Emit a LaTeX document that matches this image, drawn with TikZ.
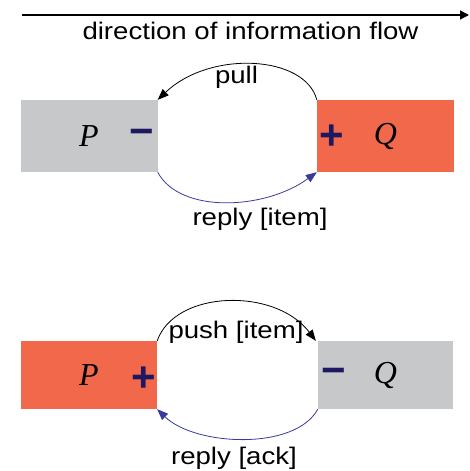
\documentclass[tikz,border=0pt]{standalone}
\usepackage{fontspec}
\setmainfont[FakeStretch=1.15]{Liberation Sans}
\newfontfamily\varfont{Liberation Serif}
\newfontfamily\signfont{Liberation Sans}
\usetikzlibrary{arrows.meta}
\definecolor{cgrey}{HTML}{C7C8CA}
\definecolor{corange}{HTML}{F2684A}
\definecolor{cnavy}{HTML}{1D1860}
\definecolor{cblue}{HTML}{3A3A9E}
\tikzset{
  every picture/.style={x=1pt, y=1pt},
  port/.style={fill=#1, inner sep=0pt, minimum width=137pt, minimum height=71pt,
    font=\varfont\itshape\fontsize{32}{32}\selectfont},
  sign/.style={text=cnavy, inner sep=0pt, font=\signfont\bfseries\fontsize{42}{42}\selectfont},
  msg/.style={anchor=base, inner sep=0pt, font=\fontsize{24}{24}\selectfont},
  call/.style={-{Triangle[length=11pt, width=8.5pt]}, line width=0.8pt},
  answer/.style={call, draw=cblue},
  flow/.style={-{Triangle[length=9pt, width=9pt]}, line width=1.3pt},
}

\begin{document}
\begin{tikzpicture}
  \useasboundingbox (0,0) rectangle (469,-471);
  % direction arrow
  \coordinate (src) at (22,-15);
  \coordinate (dst) at (469,-15);
  \draw[flow] (src) -- (dst);
  \node[msg] (dir) at (250.5,-39) {direction of information flow};

  % pull
  \node[port=cgrey, minimum height=72pt] (P1) at (89,-136) {P};
  \node[port=corange, minimum height=72pt] (Q1) at (385.5,-136) {Q};
  \node[sign] (m1) at (142,-137.5) {−};
  \node[sign] (p1) at (332,-137) {+};
  \draw[call] (Q1.north west) .. controls (305,-55) and (210,-50) .. (P1.north east);
  \draw[answer] (P1.south east) .. controls (180,-214) and (265,-210) .. (Q1.south west);
  \node[msg] (pull) at (236.5,-83.5) {pull};
  \node[msg] (item1) at (260,-225) {reply [item]};

  % push
  \node[port=corange, minimum height=68pt, minimum width=136pt] (P2) at (89,-375) {P};
  \node[port=cgrey, minimum height=68pt, minimum width=135pt] (Q2) at (385.5,-375) {Q};
  \node[sign] (p2) at (144,-379) {+};
  \node[sign] (m2) at (334,-376.5) {−};
  \draw[call] (P2.north east) .. controls (175,-290) and (275,-287) .. ([xshift=-2pt]Q2.north west);
  \draw[answer] (Q2.south west) .. controls (295,-451) and (195,-446) .. (P2.south east);
  \node[msg] (item2) at (236,-338.5) {push [item]};
  \node[msg] (ack) at (234,-464) {reply [ack]};
\end{tikzpicture}
\end{document}
